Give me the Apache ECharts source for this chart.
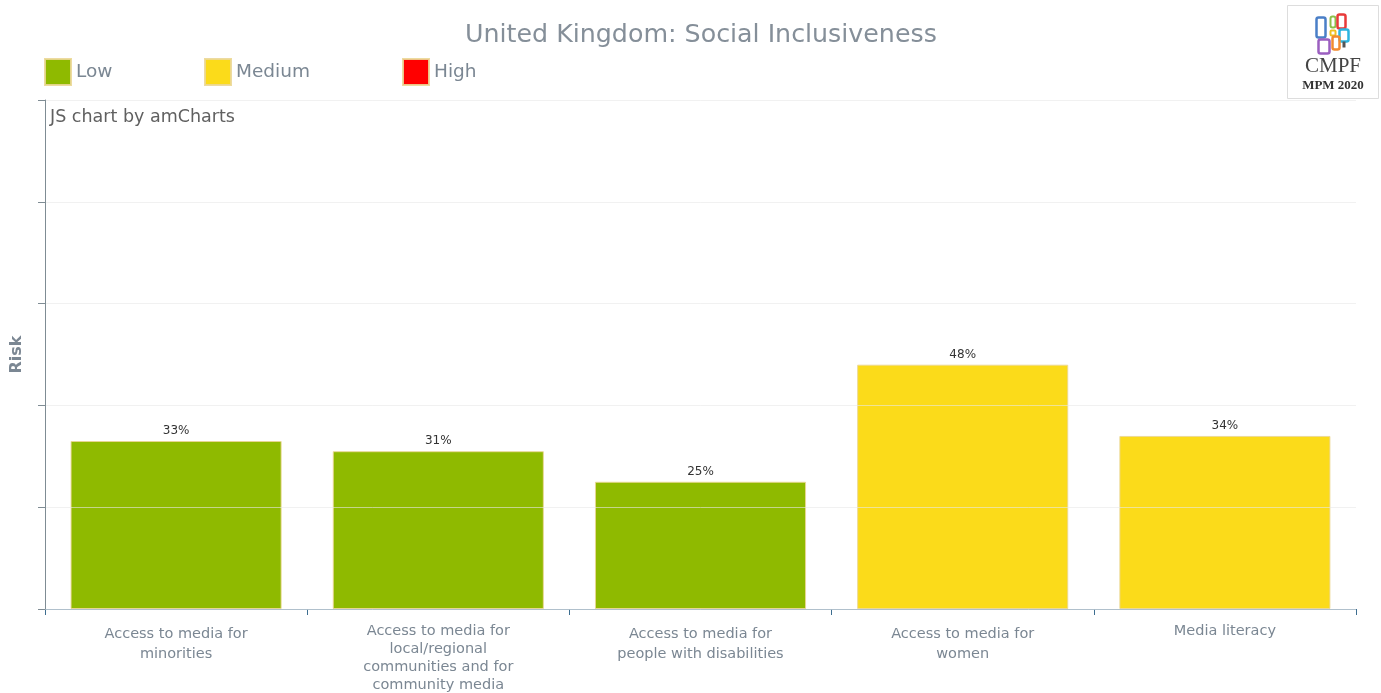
<!DOCTYPE html>
<html>
<head>
<meta charset="utf-8">
<script src="https://cdn.jsdelivr.net/npm/echarts@6/dist/echarts.min.js"></script>
<style>
  html, body { margin: 0; padding: 0; background: #ffffff; }
  #chart { width: 1381px; height: 693px; }
</style>
</head>
<body>
<div id="chart"></div>
<script>
// Indicator names (line breaks as shown under the axis)
var categories = [
  'Access to media for\nminorities',
  'Access to media for\nlocal/regional\ncommunities and for\ncommunity media',
  'Access to media for\npeople with disabilities',
  'Access to media for\nwomen',
  'Media literacy'
];
// Risk scores in percent, split by risk band ('-' = not in that band)
var lowValues    = [33, 31, 25, '-', '-'];
var mediumValues = ['-', '-', '-', 48, 34];
var highValues   = ['-', '-', '-', '-', '-'];
var riskBands = ['Low', 'Medium', 'High'];
var bandColors = ['#8fba00', '#fbdb1a', '#ff0000'];

var textGray = '#7b8793';
var font = 'DejaVu Sans';

var chart = echarts.init(document.getElementById('chart'));

function bandSeries(name, data, color) {
  return {
    name: name,
    type: 'bar',
    stack: 'risk',
    data: data,
    barWidth: '80.5%',
    itemStyle: { color: color, borderColor: 'rgba(235,215,150,0.9)', borderWidth: 1 },
    label: {
      show: true,
      position: 'top',
      distance: 4,
      formatter: '{c}%',
      color: '#333333',
      fontFamily: font,
      fontSize: 12
    }
  };
}

function bandLegend(idx, left) {
  return {
    data: [riskBands[idx]],
    left: left,
    top: 53,
    itemWidth: 26,
    itemHeight: 26,
    itemGap: 0,
    icon: 'rect',
    textStyle: { color: textGray, fontFamily: font, fontSize: 18.5, padding: [0, 0, 0, 0] },
    selectedMode: false
  };
}

chart.setOption({
  animation: false,
  title: {
    text: 'United Kingdom: Social Inclusiveness',
    left: 460,
    top: 18,
    textStyle: { color: '#858f99', fontFamily: font, fontSize: 25.3, fontWeight: 'normal' }
  },
  legend: [bandLegend(0, 39), bandLegend(1, 199), bandLegend(2, 397)],
  grid: { left: 45, right: 25, top: 100, bottom: 84 },
  xAxis: {
    type: 'category',
    data: categories,
    axisLine: { lineStyle: { color: '#5d86a3', width: 1 } },
    axisTick: { show: true, length: 6, lineStyle: { color: '#3d6e90' } },
    axisLabel: {
      interval: 0,
      margin: 13,
      color: textGray,
      fontFamily: font,
      fontSize: 14.5,
      formatter: function (v) {
        // two-line labels sit a touch lower with looser spacing
        return v.split('\n').length === 2 ? '{two|' + v + '}' : '{std|' + v + '}';
      },
      rich: {
        std: { lineHeight: 18, color: textGray, fontFamily: font, fontSize: 14.5 },
        two: { lineHeight: 20, padding: [5, 0, 0, 0], color: textGray, fontFamily: font, fontSize: 14.5 }
      }
    }
  },
  yAxis: {
    type: 'value',
    min: 0,
    max: 100,
    interval: 20,
    z: 5,
    name: 'Risk',
    nameLocation: 'middle',
    nameGap: 20,
    nameTextStyle: { color: textGray, fontFamily: font, fontSize: 16, fontWeight: 'bold' },
    axisLine: { show: true, lineStyle: { color: '#7f8c94' } },
    axisTick: { show: true, length: 7, lineStyle: { color: '#7f8c94' } },
    axisLabel: { show: false },
    splitLine: { lineStyle: { color: 'rgba(232,232,232,0.6)', width: 1 } }
  },
  series: [
    bandSeries(riskBands[0], lowValues, bandColors[0]),
    bandSeries(riskBands[1], mediumValues, bandColors[1]),
    bandSeries(riskBands[2], highValues, bandColors[2])
  ],
  graphic: [
    {
      type: 'text',
      left: 50,
      top: 108,
      style: { text: 'JS chart by amCharts', fill: '#606060', font: '17.5px "DejaVu Sans"' }
    },
    {
      // CMPF / MPM 2020 badge
      type: 'group',
      left: 1287,
      top: 5,
      children: [
        { type: 'rect', shape: { x: 0, y: 0, width: 91, height: 93 },
          style: { fill: '#ffffff', stroke: '#dddddd', lineWidth: 1 } },
        { type: 'rect', shape: { x: 29, y: 12, width: 9, height: 20, r: 2 },
          style: { fill: 'none', stroke: '#4a7fc7', lineWidth: 2.5 } },
        { type: 'rect', shape: { x: 43, y: 11, width: 5, height: 11, r: 2 },
          style: { fill: 'none', stroke: '#8dc04a', lineWidth: 2 } },
        { type: 'rect', shape: { x: 50, y: 9, width: 8, height: 14, r: 2 },
          style: { fill: 'none', stroke: '#e83a3a', lineWidth: 2.5 } },
        { type: 'rect', shape: { x: 43, y: 25, width: 5, height: 5, r: 1 },
          style: { fill: 'none', stroke: '#f0c020', lineWidth: 2 } },
        { type: 'rect', shape: { x: 52, y: 24, width: 9, height: 12, r: 2 },
          style: { fill: 'none', stroke: '#2bb5e0', lineWidth: 2.5 } },
        { type: 'rect', shape: { x: 55, y: 36, width: 3, height: 6 },
          style: { fill: '#555555' } },
        { type: 'rect', shape: { x: 45, y: 31, width: 7, height: 13, r: 2 },
          style: { fill: 'none', stroke: '#f28a30', lineWidth: 2.5 } },
        { type: 'rect', shape: { x: 31, y: 34, width: 11, height: 14, r: 2 },
          style: { fill: 'none', stroke: '#9b5fc0', lineWidth: 2.5 } },
        { type: 'text', style: { x: 45.5, y: 50, text: 'CMPF', fill: '#444444',
          font: '21px "Liberation Serif"', align: 'center' } },
        { type: 'text', style: { x: 45.5, y: 74, text: 'MPM 2020', fill: '#333333',
          font: 'bold 13px "Liberation Serif"', align: 'center' } }
      ]
    }
  ]
});
</script>
</body>
</html>
